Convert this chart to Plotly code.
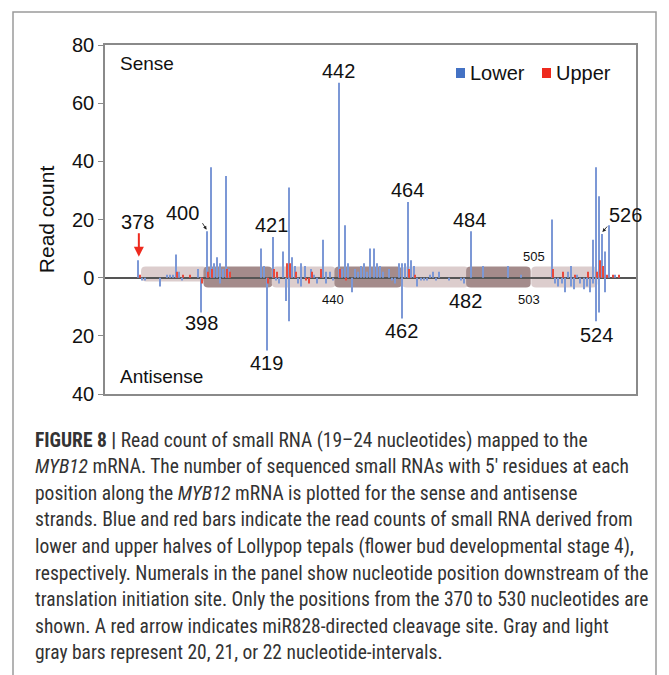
import plotly.graph_objects as go

# ---------------- data ----------------
lower_sense_pos = [378, 387, 388, 389, 390, 391, 397, 400, 401, 402, 403, 404, 405, 406, 407,
                   417, 418, 421, 424, 426, 427, 428, 430, 431, 433, 434, 437, 438, 439, 442,
                   443, 444, 445, 447, 448, 449, 450, 451, 452, 453, 454, 455, 456, 458, 461,
                   462, 463, 464, 465, 466, 471, 472, 474, 484, 488, 496, 500, 510, 515, 516,
                   518, 523, 524, 525, 526, 527, 528, 530]
lower_sense_val = [6, 1, 1, 1, 8, 2, 3, 16, 38, 5, 7, 5, 3, 35, 3,
                   10, 4, 14, 9, 31, 7, 4, 5, 4, 3, 1, 13, 2, 2, 67,
                   3, 18, 5, 3, 2, 4, 5, 2, 10, 10, 5, 4, 2, 3, 5,
                   5, 5, 26, 6, 4, 1, 2, 2, 16, 4, 4, 1, 20, 2, 4,
                   1, 13, 38, 28, 15, 9, 18, 1]

lower_anti_pos = [379, 380, 385, 392, 398, 404, 419, 422, 423, 425, 426, 429, 430, 435, 438,
                  440, 446, 459, 460, 462, 467, 468, 469, 470, 473, 477, 481, 482, 511, 512,
                  513, 514, 516, 517, 519, 520, 521, 522, 523, 524, 525, 527]
lower_anti_val = [-1, -1, -3, -1, -12, -2, -25, -1, -2, -8, -15, -2, -3, -2, -2,
                  -1, -5, -1, -2, -14, -3, -1, -1, -1, -1, -1, -1, -2, -2, -3,
                  -2, -5, -3, -4, -2, -4, -3, -5, -2, -15, -12, -5]

upper_sense_pos = [378, 390, 392, 394, 400, 401, 406, 407, 421, 422, 425, 426, 428, 433, 436,
                   442, 464, 466, 510, 513, 517, 521, 524, 525, 526, 527, 529, 531]
upper_sense_val = [1, 2, 1, 1, 2, 3, 3, 2, 3, 2, 5, 5, 2, 2, 3,
                   3, 3, 1, 3, 2, 1, 2, 2, 6, 4, 1, 1, 1]

upper_anti_pos = [398, 419, 431, 432, 444]
upper_anti_val = [-2, -2, -1, -2, -1]

# nucleotide intervals (gray / light gray bars)
interval_start = [378.7, 398.6, 420.4, 440.4, 461.9, 482.4, 503.2]
interval_end = [399.8, 420.6, 440.8, 461.9, 483.3, 503.0, 524.3]
interval_dark = [False, True, False, True, False, True, False]

# position labels
sense_labels = ["378", "400", "421", "442", "464", "484", "505", "526"]
sense_lab_x = [377.7, 392.0, 420.4, 441.7, 463.7, 483.4, 504.1, 533.1]
sense_lab_y = [19.3, 22.3, 18.2, 71.2, 30.0, 19.9, 7.3, 21.6]
sense_lab_size = [20, 20, 20, 20, 20, 20, 13, 20]

anti_labels = ["398", "419", "440", "462", "482", "503", "524"]
anti_lab_x = [398.1, 418.8, 439.8, 461.8, 482.1, 502.5, 523.9]
anti_lab_y = [-15.5, -29.2, -7.6, -18.4, -8.1, -7.6, -19.6]
anti_lab_size = [20, 20, 13, 20, 20, 13, 20]

y_tickvals = [-40, -20, 0, 20, 40, 60, 80]
y_ticktext = ["40", "20", "0", "20", "40", "60", "80"]

legend_names = ["Lower", "Upper"]

caption_lines = [
    "<b>FIGURE 8 |</b> Read count of small RNA (19–24 nucleotides) mapped to the",
    "<i>MYB12</i> mRNA. The number of sequenced small RNAs with 5′ residues at each",
    "position along the <i>MYB12</i> mRNA is plotted for the sense and antisense",
    "strands. Blue and red bars indicate the read counts of small RNA derived from",
    "lower and upper halves of Lollypop tepals (flower bud developmental stage 4),",
    "respectively. Numerals in the panel show nucleotide position downstream of the",
    "translation initiation site. Only the positions from the 370 to 530 nucleotides are",
    "shown. A red arrow indicates miR828-directed cleavage site. Gray and light",
    "gray bars represent 20, 21, or 22 nucleotide-intervals.",
]

BLUE = "#4472C4"
RED = "#EE2A1E"
BAR_BLUE = "#7C98D6"
BAR_RED = "#E8493C"
FONT = "Liberation Sans, Arial, sans-serif"
CAPFONT = "Liberation Sans Narrow, Roboto Condensed, Liberation Sans, sans-serif"

W, H = 669, 675
L, R, T, B = 105, 33, 45, 281
PW, PH = W - L - R, H - T - B


def px_x(px):
    return (px - L) / PW


def px_y(py):
    return (H - B - py) / PH


fig = go.Figure()
fig.add_trace(go.Bar(x=lower_sense_pos, y=lower_sense_val, name="Lower (sense)", marker_color=BAR_BLUE,
                     marker_line_width=0, width=0.32, offset=-0.3, showlegend=False))
fig.add_trace(go.Bar(x=upper_sense_pos, y=upper_sense_val, name="Upper (sense)", marker_color=BAR_RED,
                     marker_line_width=0, width=0.32, offset=0.05, showlegend=False))
fig.add_trace(go.Bar(x=lower_anti_pos, y=lower_anti_val, name="Lower (antisense)", marker_color=BAR_BLUE,
                     marker_line_width=0, width=0.32, offset=-0.3, showlegend=False))
fig.add_trace(go.Bar(x=upper_anti_pos, y=upper_anti_val, name="Upper (antisense)", marker_color=BAR_RED,
                     marker_line_width=0, width=0.32, offset=0.05, showlegend=False))


def rrect(x0, x1, y0, y1, rx, ry):
    return (f"M {x0+rx},{y0} L {x1-rx},{y0} Q {x1},{y0} {x1},{y0+ry} "
            f"L {x1},{y1-ry} Q {x1},{y1} {x1-rx},{y1} L {x0+rx},{y1} "
            f"Q {x0},{y1} {x0},{y1-ry} L {x0},{y0+ry} Q {x0},{y0} {x0+rx},{y0} Z")


for s, e, d in zip(interval_start, interval_end, interval_dark):
    y_lo = -3.4 if (d or s > 380) else -1.3
    fig.add_shape(type="path", xref="x", yref="y", layer="below",
                  path=rrect(s, e, y_lo, 3.8, 1.5, 1.5),
                  fillcolor="#A48B8B" if d else "#DCCDCD", line_width=0)

annotations = []
for t, x, y, s in zip(sense_labels + anti_labels, sense_lab_x + anti_lab_x,
                      sense_lab_y + anti_lab_y, sense_lab_size + anti_lab_size):
    annotations.append(dict(x=x, y=y, xref="x", yref="y", text=t, showarrow=False,
                            font=dict(family=FONT, size=s, color="#111")))

annotations.append(dict(x=371.3, y=73.5, xref="x", yref="y", text="Sense", showarrow=False,
                        xanchor="left", font=dict(family=FONT, size=19, color="#111")))
annotations.append(dict(x=371.3, y=-34, xref="x", yref="y", text="Antisense", showarrow=False,
                        xanchor="left", font=dict(family=FONT, size=19, color="#111")))

# arrows
annotations.append(dict(x=378, y=7.2, xref="x", yref="y", text="", showarrow=True,
                        ax=0, ay=-25, arrowhead=2, arrowsize=1, arrowwidth=2, arrowcolor=RED))
annotations.append(dict(x=399.6, y=16.5, xref="x", yref="y", text="", showarrow=True,
                        ax=-5, ay=-8, arrowhead=2, arrowsize=0.8, arrowwidth=0.9, arrowcolor="#222"))
annotations.append(dict(x=525.9, y=15.7, xref="x", yref="y", text="", showarrow=True,
                        ax=6, ay=-7, arrowhead=2, arrowsize=0.8, arrowwidth=0.9, arrowcolor="#222"))

# legend (square + label)
for name, color, sq_x in zip(legend_names, [BLUE, RED], [456, 542]):
    fig.add_shape(type="rect", xref="paper", yref="paper",
                  x0=px_x(sq_x), x1=px_x(sq_x + 9), y0=px_y(78), y1=px_y(68),
                  fillcolor=color, line_width=0)
    annotations.append(dict(x=px_x(sq_x + 12), y=px_y(73), xref="paper", yref="paper",
                            text=name, showarrow=False, xanchor="left", yanchor="middle",
                            font=dict(family=FONT, size=20, color="#111")))

# caption
for k, line in enumerate(caption_lines):
    annotations.append(dict(x=px_x(33), y=px_y(440 + 26.6 * k), xref="paper", yref="paper",
                            text=line, showarrow=False, xanchor="left", yanchor="middle",
                            align="left", font=dict(family=CAPFONT, size=19.5, color="#333")))

# outer frame (left, top, right)
frame_color = "#9A9A9A"
fx0, fx1, fy_top, fy_bot = px_x(13), px_x(656), px_y(12), px_y(676)
fig.add_shape(type="path", xref="paper", yref="paper",
              path=f"M {fx0},{fy_bot} L {fx0},{fy_top} L {fx1},{fy_top} L {fx1},{fy_bot}",
              line=dict(color=frame_color, width=1.5))

fig.update_layout(
    width=W, height=H,
    margin=dict(l=L, r=R, t=T, b=B, autoexpand=False),
    paper_bgcolor="white", plot_bgcolor="white",
    barmode="overlay",
    showlegend=False,
    annotations=annotations,
    xaxis=dict(range=[367.2, 536.6], showticklabels=False, ticks="", showgrid=False,
               zeroline=False, showline=True, mirror=True, linecolor="#8A8A8A", linewidth=1.5),
    yaxis=dict(range=[-40, 80], tickvals=y_tickvals, ticktext=y_ticktext, ticks="outside",
               ticklen=5, tickcolor="#8A8A8A", tickfont=dict(family=FONT, size=20, color="#111"),
               showgrid=False, zeroline=True, zerolinecolor="#555", zerolinewidth=1.5,
               showline=True, mirror=True, linecolor="#8A8A8A", linewidth=1.5,
               title=dict(text="Read count", font=dict(family=FONT, size=21, color="#111"),
                          standoff=12)),
)

fig.write_html("out.html")
